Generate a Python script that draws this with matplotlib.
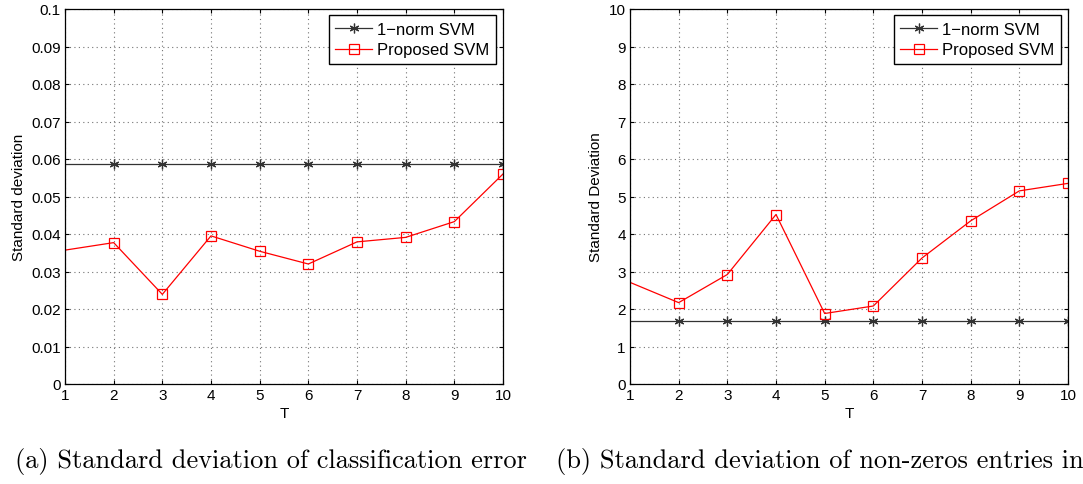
import matplotlib
matplotlib.use("Agg")
import matplotlib.pyplot as plt

T = [1, 2, 3, 4, 5, 6, 7, 8, 9, 10]

# (a) classification error std
norm1_err = [0.0587] * 10
prop_err = [0.0357, 0.0377, 0.0239, 0.0395, 0.0354, 0.0320, 0.0379, 0.0391, 0.0433, 0.0560]

# (b) non-zero entries std
norm1_nz = [1.68] * 10
prop_nz = [2.71, 2.17, 2.92, 4.52, 1.88, 2.08, 3.36, 4.35, 5.15, 5.35]

err_ticks = [0, 0.01, 0.02, 0.03, 0.04, 0.05, 0.06, 0.07, 0.08, 0.09, 0.1]
err_labels = ["0", "0.01", "0.02", "0.03", "0.04", "0.05", "0.06", "0.07", "0.08", "0.09", "0.1"]
nz_ticks = list(range(11))

captions = ["(a) Standard deviation of classification error",
            "(b) Standard deviation of non-zeros entries in"]

plt.rcParams['font.family'] = ['Liberation Sans', 'DejaVu Sans']

W, H = 1083, 485
fig = plt.figure(figsize=(W / 100, H / 100), dpi=100)


def panel(left, norm1, prop, yticks, ylabels, ylim, ylabel):
    ax = fig.add_axes([left / W, 1 - 385 / H, 438 / W, 375 / H])
    ax.plot(T, norm1, color='0.2', lw=0.9, marker=(6, 2, 0), ms=7, mew=0.9,
            markevery=range(1, 10), label='1\u2212norm SVM')
    ax.plot(T, prop, color='red', lw=0.9, marker='s', ms=6.5, mfc='none',
            mew=0.9, markevery=range(1, 10), label='Proposed SVM')
    ax.set_xlim(1, 10)
    ax.set_ylim(*ylim)
    ax.set_xticks(T)
    ax.set_yticks(yticks)
    ax.set_yticklabels(ylabels)
    ax.grid(True, color='0.45', lw=0.8, dashes=(1, 3))
    ax.tick_params(direction='in', top=True, right=True, labelsize=11,
                   length=3, pad=3)
    for s in ax.spines.values():
        s.set_linewidth(0.9)
    ax.set_xlabel('T', fontsize=11, labelpad=3)
    ax.set_ylabel(ylabel, fontsize=11, labelpad=4)
    leg = ax.legend(loc='upper right', fontsize=12, fancybox=False,
                    framealpha=1, edgecolor='black', borderpad=0.4,
                    handlelength=2.2, handletextpad=0.3, labelspacing=0.35,
                    borderaxespad=0, bbox_to_anchor=(0.984, 0.984))
    leg.get_frame().set_linewidth(1.0)
    return ax


panel(65, norm1_err, prop_err, err_ticks, err_labels, (0, 0.1), 'Standard deviation')
panel(630, norm1_nz, prop_nz, nz_ticks, [str(v) for v in nz_ticks], (0, 10), 'Standard Deviation')

fig.text(15 / W, 1 - 462 / H, captions[0], family='cmr10', fontsize=19, va='center')
fig.text(556 / W, 1 - 462 / H, captions[1], family='cmr10', fontsize=19, va='center')

fig.savefig('out.png', dpi=100)
